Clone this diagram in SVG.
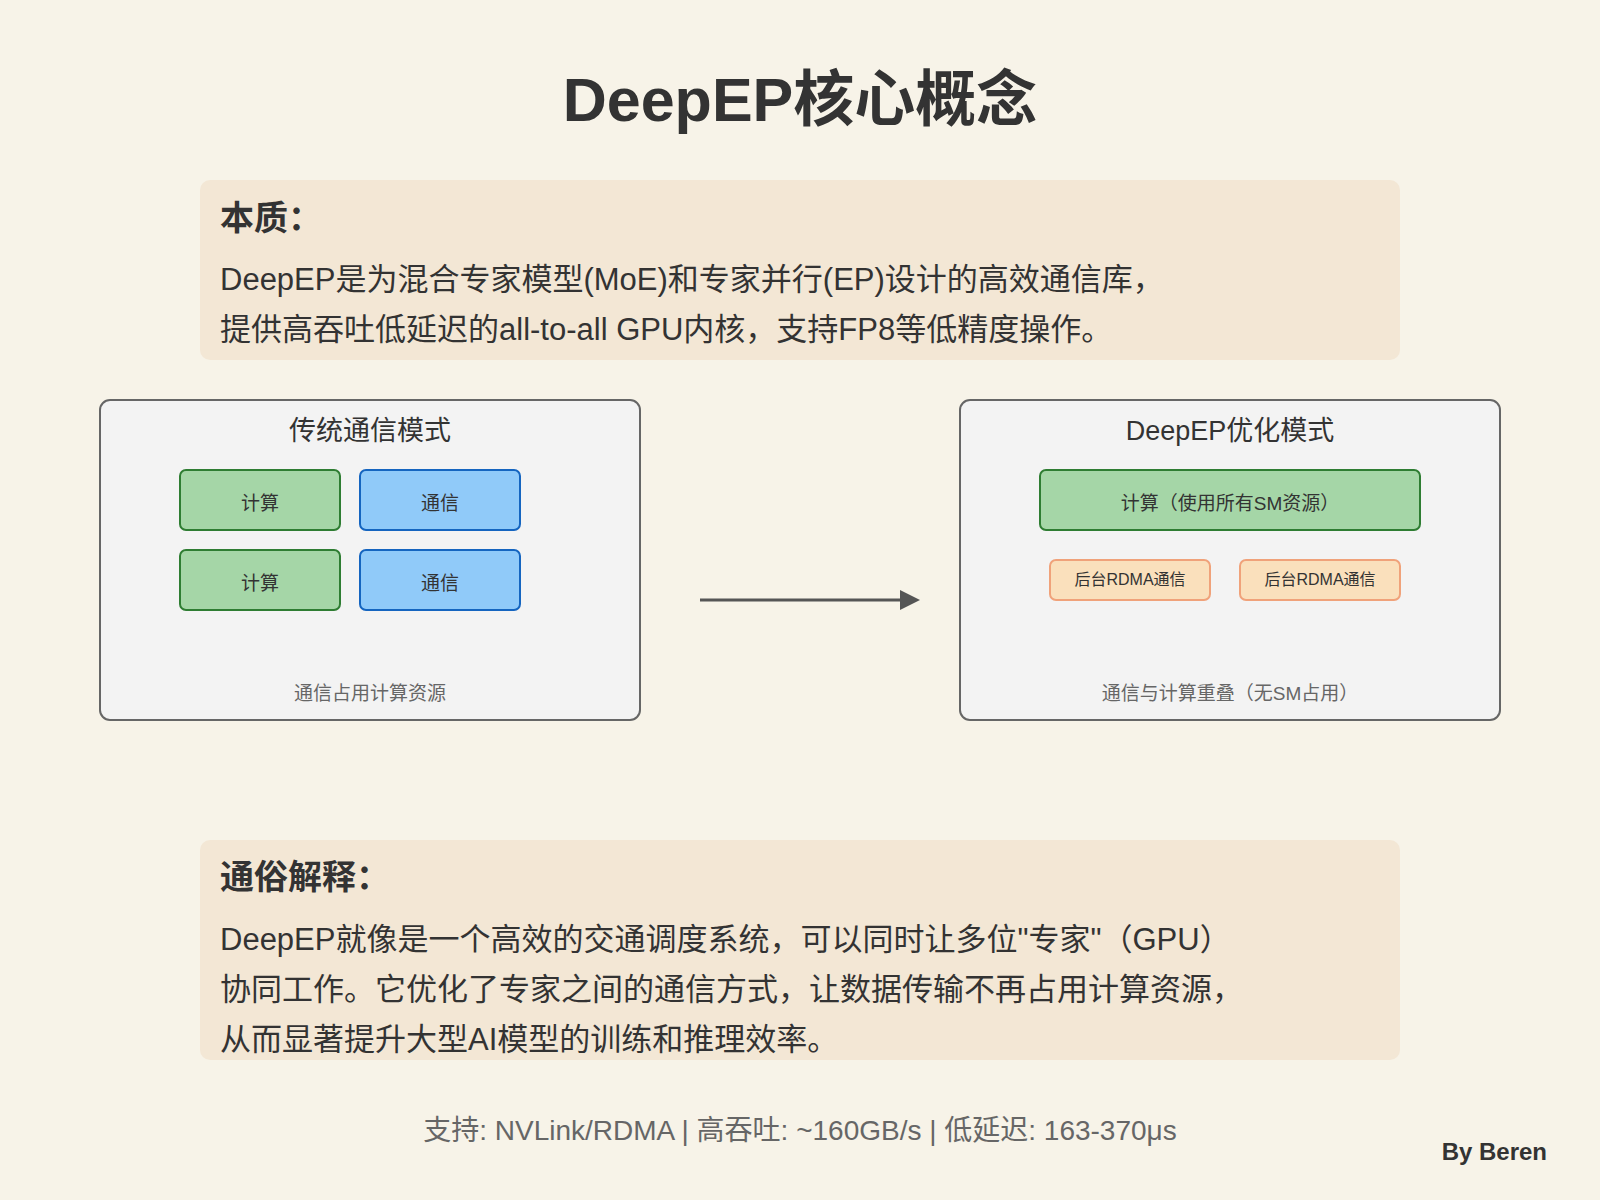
<svg xmlns="http://www.w3.org/2000/svg" width="1600" height="1200" viewBox="0 0 1600 1200">
  <defs>
    <style>
      text { font-family: "Liberation Sans", "Noto Sans CJK SC", sans-serif; fill: #333; }
      .title { font-size: 61px; font-weight: bold; text-anchor: middle; }
      .card { fill: #f3e7d5; }
      .h { font-size: 34px; font-weight: bold; }
      .body { font-size: 31px; }
      .panel { fill: #f3f3f3; stroke: #666; stroke-width: 2; }
      .ptitle { font-size: 27px; text-anchor: middle; }
      .pnote { font-size: 19px; fill: #666; text-anchor: middle; }
      .green { fill: #a5d6a7; stroke: #2e7d32; stroke-width: 2; }
      .blue { fill: #90caf9; stroke: #1565c0; stroke-width: 2; }
      .orange { fill: #fae0bc; stroke: #f0a27a; stroke-width: 2; }
      .lbl { font-size: 19px; text-anchor: middle; }
      .lbl-s { font-size: 16px; text-anchor: middle; }
      .footer { font-size: 28px; fill: #666; text-anchor: middle; }
      .sign { font-size: 24px; font-weight: bold; text-anchor: end; }
    </style>
  </defs>

  <rect x="0" y="0" width="1600" height="1200" fill="#f7f3e8"/>

  <text class="title" x="800" y="121">DeepEP核心概念</text>

  <g id="essence">
    <rect class="card" x="200" y="180" width="1200" height="180" rx="10"/>
    <text class="h" x="220" y="230">本质：</text>
    <text class="body" x="220" y="290">DeepEP是为混合专家模型(MoE)和专家并行(EP)设计的高效通信库，</text>
    <text class="body" x="220" y="340">提供高吞吐低延迟的all-to-all GPU内核，支持FP8等低精度操作。</text>
  </g>

  <g id="traditional">
    <rect class="panel" x="100" y="400" width="540" height="320" rx="10"/>
    <text class="ptitle" x="370" y="440">传统通信模式</text>
    <text class="pnote" x="370" y="700">通信占用计算资源</text>
  </g>
  <g id="trad-compute-1">
    <rect class="green" x="180" y="470" width="160" height="60" rx="6"/>
    <text class="lbl" x="260" y="510">计算</text>
  </g>
  <g id="trad-comm-1">
    <rect class="blue" x="360" y="470" width="160" height="60" rx="6"/>
    <text class="lbl" x="440" y="510">通信</text>
  </g>
  <g id="trad-compute-2">
    <rect class="green" x="180" y="550" width="160" height="60" rx="6"/>
    <text class="lbl" x="260" y="590">计算</text>
  </g>
  <g id="trad-comm-2">
    <rect class="blue" x="360" y="550" width="160" height="60" rx="6"/>
    <text class="lbl" x="440" y="590">通信</text>
  </g>

  <g id="deepep">
    <rect class="panel" x="960" y="400" width="540" height="320" rx="10"/>
    <text class="ptitle" x="1230" y="440">DeepEP优化模式</text>
    <text class="pnote" x="1230" y="700">通信与计算重叠（无SM占用）</text>
  </g>
  <g id="deepep-compute">
    <rect class="green" x="1040" y="470" width="380" height="60" rx="6"/>
    <text class="lbl" x="1230" y="510">计算（使用所有SM资源）</text>
  </g>
  <g id="rdma-1">
    <rect class="orange" x="1050" y="560" width="160" height="40" rx="6"/>
    <text class="lbl-s" x="1130" y="585">后台RDMA通信</text>
  </g>
  <g id="rdma-2">
    <rect class="orange" x="1240" y="560" width="160" height="40" rx="6"/>
    <text class="lbl-s" x="1320" y="585">后台RDMA通信</text>
  </g>

  <g id="connectors">
    <line x1="700" y1="600" x2="901" y2="600" stroke="#555" stroke-width="3"/>
    <polygon points="900,590 920,600 900,610" fill="#555"/>
  </g>

  <g id="explain">
    <rect class="card" x="200" y="840" width="1200" height="220" rx="10"/>
    <text class="h" x="220" y="889">通俗解释：</text>
    <text class="body" x="220" y="950">DeepEP就像是一个高效的交通调度系统，可以同时让多位"专家"（GPU）</text>
    <text class="body" x="220" y="1000">协同工作。它优化了专家之间的通信方式，让数据传输不再占用计算资源，</text>
    <text class="body" x="220" y="1050">从而显著提升大型AI模型的训练和推理效率。</text>
  </g>

  <text class="footer" x="800" y="1140">支持: NVLink/RDMA | 高吞吐: ~160GB/s | 低延迟: 163-370μs</text>
  <text class="sign" x="1547" y="1160">By Beren</text>
</svg>
